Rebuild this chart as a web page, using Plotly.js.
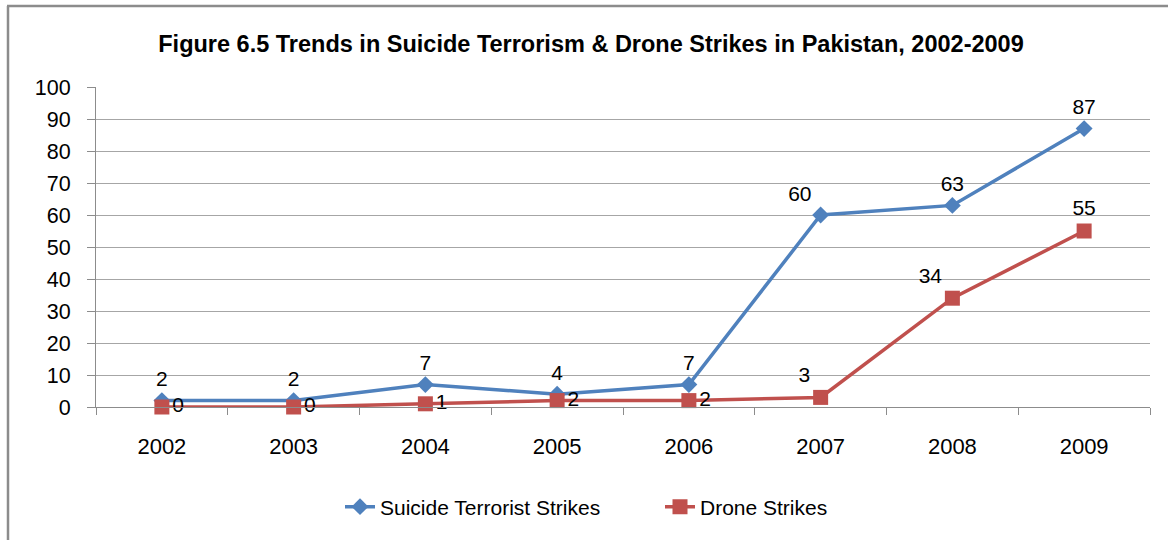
<!DOCTYPE html>
<html>
<head>
<meta charset="utf-8">
<script src="https://cdn.plot.ly/plotly-3.0.1.min.js"></script>
<style>html,body{margin:0;padding:0;background:#fff;}#chart{width:1168px;height:540px;}</style>
</head>
<body>
<div id="chart"></div>
<script>
const years = ["2002","2003","2004","2005","2006","2007","2008","2009"];
const suicideStrikes = [2, 2, 7, 4, 7, 60, 63, 87];
const droneStrikes = [0, 0, 1, 2, 2, 3, 34, 55];
const yTicks = [0,10,20,30,40,50,60,70,80,90,100];

const FONT = "Liberation Sans, Arial, sans-serif";
const L = 96, R = 18, T = 87, B = 133, W = 1168, H = 540;
const pw = W - L - R, ph = H - T - B;
const px = x => (x - L) / pw;
const py = y => (H - B - y) / ph;

const traces = [
  {
    type: "scatter", mode: "lines+markers+text", name: "Suicide Terrorist Strikes",
    x: years, y: suicideStrikes, text: suicideStrikes.map(String),
    textposition: ["top center","top center","top center","top center","top center","top left","top center","top center"],
    textfont: {family: FONT, size: 21, color: "#000"},
    line: {color: "#4f81bd", width: 3.5},
    marker: {symbol: "diamond", size: 13, color: "#4f81bd"},
    cliponaxis: false, legend: "legend"
  },
  {
    type: "scatter", mode: "lines+markers+text", name: "Drone Strikes",
    x: years, y: droneStrikes, text: droneStrikes.map(String),
    textposition: ["middle right","middle right","middle right","middle right","middle right","top left","top left","top center"],
    textfont: {family: FONT, size: 21, color: "#000"},
    line: {color: "#c0504d", width: 3.5},
    marker: {symbol: "square", size: 15, color: "#c0504d"},
    cliponaxis: false, legend: "legend2"
  }
];

const legendBase = {
  orientation: "h", yanchor: "middle", y: py(507), xanchor: "left",
  font: {family: FONT, size: 21, color: "#000"},
  bgcolor: "rgba(0,0,0,0)", borderwidth: 0
};

const layout = {
  width: W, height: H,
  margin: {l: L, r: R, t: T, b: B},
  paper_bgcolor: "#fff", plot_bgcolor: "#fff",
  font: {family: FONT, color: "#000"},
  title: {
    text: "<b>Figure 6.5 Trends in Suicide Terrorism & Drone Strikes in Pakistan, 2002-2009</b>",
    font: {family: FONT, size: 23.5, color: "#000"},
    x: px(591), xref: "paper", xanchor: "center",
    y: 1 - 44 / H, yanchor: "middle"
  },
  xaxis: {
    type: "category", range: [-0.5, 7.5],
    showgrid: false, showline: true, linecolor: "#8c8c8c", linewidth: 1,
    ticks: "outside", tickson: "boundaries", ticklen: 7, tickcolor: "#8c8c8c",
    tickfont: {family: FONT, size: 22, color: "#000"},
    ticklabelstandoff: 20,
    zeroline: false, fixedrange: true
  },
  yaxis: {
    range: [0, 100], tickvals: yTicks, ticktext: yTicks.map(String),
    showgrid: true, gridcolor: "#a6a6a6", gridwidth: 1,
    showline: true, linecolor: "#8c8c8c", linewidth: 1,
    ticks: "outside", ticklen: 8, tickcolor: "#8c8c8c",
    tickfont: {family: FONT, size: 21.5, color: "#000"},
    ticklabelstandoff: 12,
    zeroline: false, fixedrange: true
  },
  showlegend: true,
  legend: Object.assign({}, legendBase, {x: px(340)}),
  legend2: Object.assign({}, legendBase, {x: px(660)}),
  shapes: [
    {type: "line", xref: "paper", yref: "paper", x0: px(8), x1: px(8), y0: py(6), y1: py(560), line: {color: "#8c8c8c", width: 2.5}},
    {type: "line", xref: "paper", yref: "paper", x0: px(7), x1: px(1200), y0: py(6), y1: py(6), line: {color: "#8c8c8c", width: 2.5}}
  ]
};

Plotly.newPlot("chart", traces, layout, {displayModeBar: false, staticPlot: true});
</script>
</body>
</html>
